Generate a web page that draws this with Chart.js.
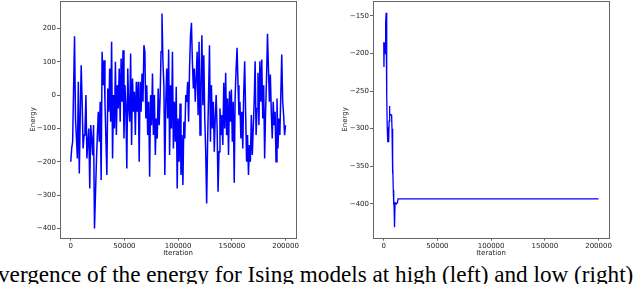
<!DOCTYPE html>
<html>
<head>
<meta charset="utf-8">
<script src="https://cdn.jsdelivr.net/npm/chart.js@4/dist/chart.umd.min.js"></script>
<style>
  body { margin: 0; width: 640px; height: 284px; overflow: hidden; background: #fff; position: relative; }
  canvas { position: absolute; }
  #left { left: 0; top: -4px; }
  #right { left: 313px; top: -4px; }
  .caption { position: absolute; left: -2px; top: 261px; font-family: "Liberation Serif", serif; font-size: 23.2px; white-space: nowrap; color: #000; }
</style>
</head>
<body>
<canvas id="left" width="300" height="261"></canvas>
<canvas id="right" width="300" height="261"></canvas>
<div class="caption">vergence of the energy for Ising models at high (left) and low (right)</div>
<script>
const leftEnergy = [
  -200, -160, -140, 20, 177, -70, -130, -190, 40, -235,
  -60, 90, -20, -160, -120, -100, 0, -190, -140, -100,
  -280, -90, -130, -180, -90, -400, -300, -200, -120, -50,
  -140, -20, -255, 130, 30, 105, -20, -130, -240, 20,
  -50, 80, -80, 160, -190, 0, -100, 100, -120, 30,
  -40, 80, -80, 110, -20, 135, -130, 30, -30, -220,
  80, -40, -80, 125, -150, 50, -50, 10, -120, 40,
  -50, 40,
  -200, 40, -50, 65, -20, 150, 130, -70, 30, -120,
  -20, -245, 0, -90, 65, -120, 0, -180, -70, -130,
  20, -90, -10, 130, 245, 100, 30, -240, -20, 80,
  -70, 137, -180, 30, -100, 130, -160, -20, -140, 25,
  -280, -70, -200, -25, -240, -120, -270, -80, -130, 0,
  -20, 40, -80, 80, 180, 217, 100, 20, 80, -20,
  50, 130, -60, 160, -120, 30, 180, -30, 120, -70,
  -170, -325, -140, 0, 150, -140, 30, -100, -20, -170,
  -70, 0, -100,
  -290, -170, -40, -120, -60, -150, 37, -100, 67, -120,
  -10, -180, 12, -80, 17, -140, -20, -263, 0, 80,
  142, 30, -60, -20, -130, -50, -160, 7, 102, -50,
  -200, -120, -240, -150, -200, -60, -180, -100, -20, 102,
  -120, -40, 67, -90, 102, -20, 107, -70, 30, -190,
  -50, 52, 184, 82, -20, 62, -50, -130, -20, -90,
  -50, -200, -10, -160, -70, -120, 0, 122, -20, -60,
  -120, -90
];
const leftLastIter = 200000;

// low temperature run
const rightIter = [0, 200, 400, 800, 1200, 1600, 2000, 2200, 2500, 2800,
  3000, 3300, 3600, 3900, 4200, 4600, 5000, 5300, 5700, 6200,
  6800, 7300, 7700, 8000, 8200, 8400, 8600, 8900, 9300, 9600,
  9900, 10200, 10500, 11000, 12000, 12800, 13300, 200000];
const rightEnergy = [-185, -218, -198, -185, -198, -200, -160, -146, -152, -200,
  -255, -300, -318, -302, -300, -318, -290, -270, -282, -281,
  -282, -281, -300, -330, -360, -315, -345, -382, -400, -402,
  -398, -431, -400, -399, -400, -398, -393.5, -393.5];

const xTicks = [0, 50000, 100000, 150000, 200000];
const leftYTicks = [-400, -300, -200, -100, 0, 100, 200];
const rightYTicks = [-400, -350, -300, -250, -200, -150];

const tickFont = { family: 'DejaVu Sans', size: 7 };
const ink = '#222';
const spine = '#666';

const frame = {
    id: 'frame',
    afterDatasetsDraw(chart) {
        const a = chart.chartArea;
        const ctx = chart.ctx;
        ctx.save();
        ctx.strokeStyle = spine;
        ctx.lineWidth = 1;
        ctx.strokeRect(Math.round(a.left) + 0.5, Math.round(a.top) + 0.5,
            Math.round(a.right - a.left), Math.round(a.bottom - a.top));
        ctx.restore();
    }
};

function fmt(v) {
    return v < 0 ? '\u2212' + Math.abs(v) : String(v);
}

function makeChart(id, points, yMin, yMax, yTicks, padLeft, yWidth, lineW) {
    new Chart(document.getElementById(id), {
        type: 'line',
        data: {
            datasets: [{
                data: points,
                borderColor: '#0000ff',
                borderWidth: lineW,
                pointRadius: 0,
                tension: 0,
                fill: false
            }]
        },
        options: {
            responsive: false,
            animation: false,
            devicePixelRatio: 1,
            layout: { padding: { left: padLeft, right: 2, top: 0, bottom: 0 } },
            plugins: { legend: { display: false }, tooltip: { enabled: false } },
            scales: {
                x: {
                    type: 'linear',
                    min: -10000,
                    max: 210000,
                    afterBuildTicks: s => { s.ticks = xTicks.map(v => ({ value: v })); },
                    afterFit: s => { s.height = 19.3; },
                    ticks: { font: tickFont, color: ink, padding: 1, maxRotation: 0, autoSkip: false, callback: v => fmt(v) },
                    grid: { drawOnChartArea: false, drawTicks: true, tickLength: 3, color: spine },
                    border: { display: false },
                    title: { display: true, text: 'Iteration', font: tickFont, color: ink, padding: 0 }
                },
                y: {
                    min: yMin,
                    max: yMax,
                    afterBuildTicks: s => { s.ticks = yTicks.map(v => ({ value: v })); },
                    afterFit: s => { s.width = yWidth; },
                    ticks: { font: tickFont, color: ink, padding: 1, autoSkip: false, callback: v => fmt(v) },
                    grid: { drawOnChartArea: false, drawTicks: true, tickLength: 3, color: spine },
                    border: { display: false },
                    title: { display: true, text: 'Energy', font: tickFont, color: ink, padding: 0 }
                }
            }
        },
        plugins: [frame]
    });
}

const leftStep = leftLastIter / (leftEnergy.length - 1);
const leftPoints = leftEnergy.map((e, i) => ({ x: i * leftStep, y: e }));
const rightPoints = rightIter.map((it, i) => ({ x: it, y: rightEnergy[i] }));

makeChart('left', leftPoints, -428, 282, leftYTicks, 29, 31, 1.5);
makeChart('right', rightPoints, -445, -130.5, rightYTicks, 28, 32, 1.3);
</script>
</body>
</html>
